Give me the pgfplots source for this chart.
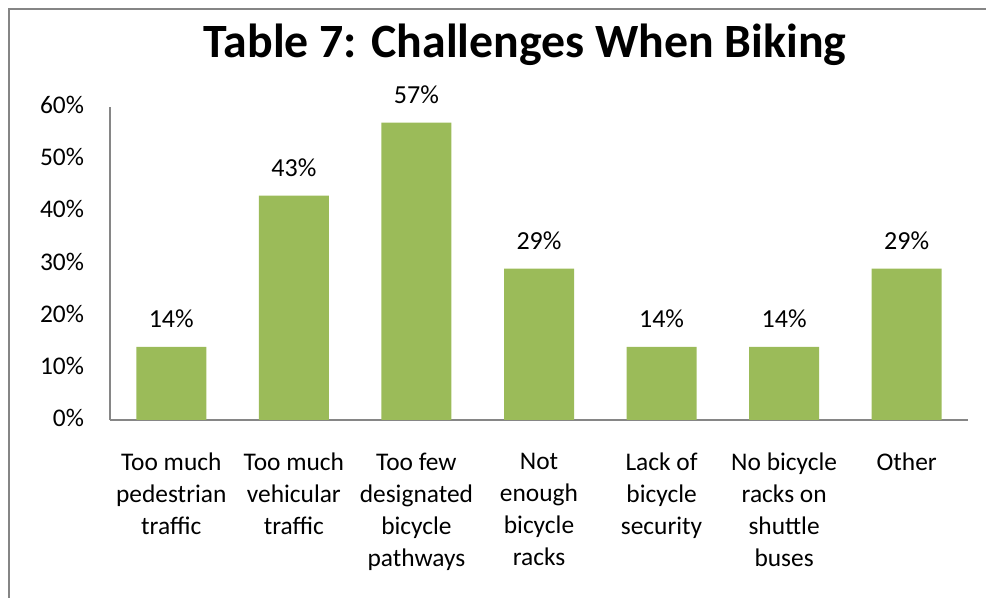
\documentclass[border=0pt]{standalone}
\usepackage{pgfplots}
\pgfplotsset{compat=1.18}
\usepackage{fontspec}
\setmainfont{Carlito}
\definecolor{bargreen}{HTML}{9BBB59}
\definecolor{axgray}{HTML}{868686}
\definecolor{framegray}{HTML}{858585}
\begin{document}
\begin{tikzpicture}
\useasboundingbox (0,0) rectangle (493pt,299pt);
\draw[framegray, line width=1pt] (4.5pt,0) -- (4.5pt,294.5pt) -- (493pt,294.5pt);
\node[font=\fontsize{23.9}{28}\selectfont\bfseries] at (262.5pt,276.5pt) {Table 7: Challenges When Biking};
\begin{axis}[
  at={(55pt,89pt)}, anchor=south west,
  scale only axis, width=429pt, height=156.5pt,
  ybar, bar width=35pt,
  xmin=-0.5, xmax=6.5, ymin=0, ymax=60,
  axis x line*=bottom, axis y line*=left,
  axis line style={axgray, line width=0.8pt},
  x axis line style={-}, y axis line style={-},
  major tick length=0pt,
  xtick=data,
  xticklabels={{Too much\\pedestrian\\traffic},{Too much\\vehicular\\traffic},{Too few\\designated\\bicycle\\pathways},{Not\\enough\\bicycle\\racks},{Lack of\\bicycle\\security},{No bicycle\\racks on\\shuttle\\buses},{Other}},
  xticklabel style={align=center, font=\fontsize{12.7}{16}\selectfont, yshift=-13pt},
  ytick={0,10,20,30,40,50,60},
  yticklabel={\pgfmathprintnumber{\tick}\%},
  yticklabel style={font=\fontsize{12.7}{15}\selectfont, xshift=-9.5pt, yshift=1pt},
  /pgf/number format/assume math mode=true,
  nodes near coords={\pgfmathprintnumber{\pgfplotspointmeta}\%},
  nodes near coords style={font=\fontsize{13}{15}\selectfont, yshift=6pt},
]
\addplot[fill=bargreen, draw=none] coordinates {(0,14) (1,43) (2,57) (3,29) (4,14) (5,14) (6,29)};
\end{axis}
\end{tikzpicture}
\end{document}
